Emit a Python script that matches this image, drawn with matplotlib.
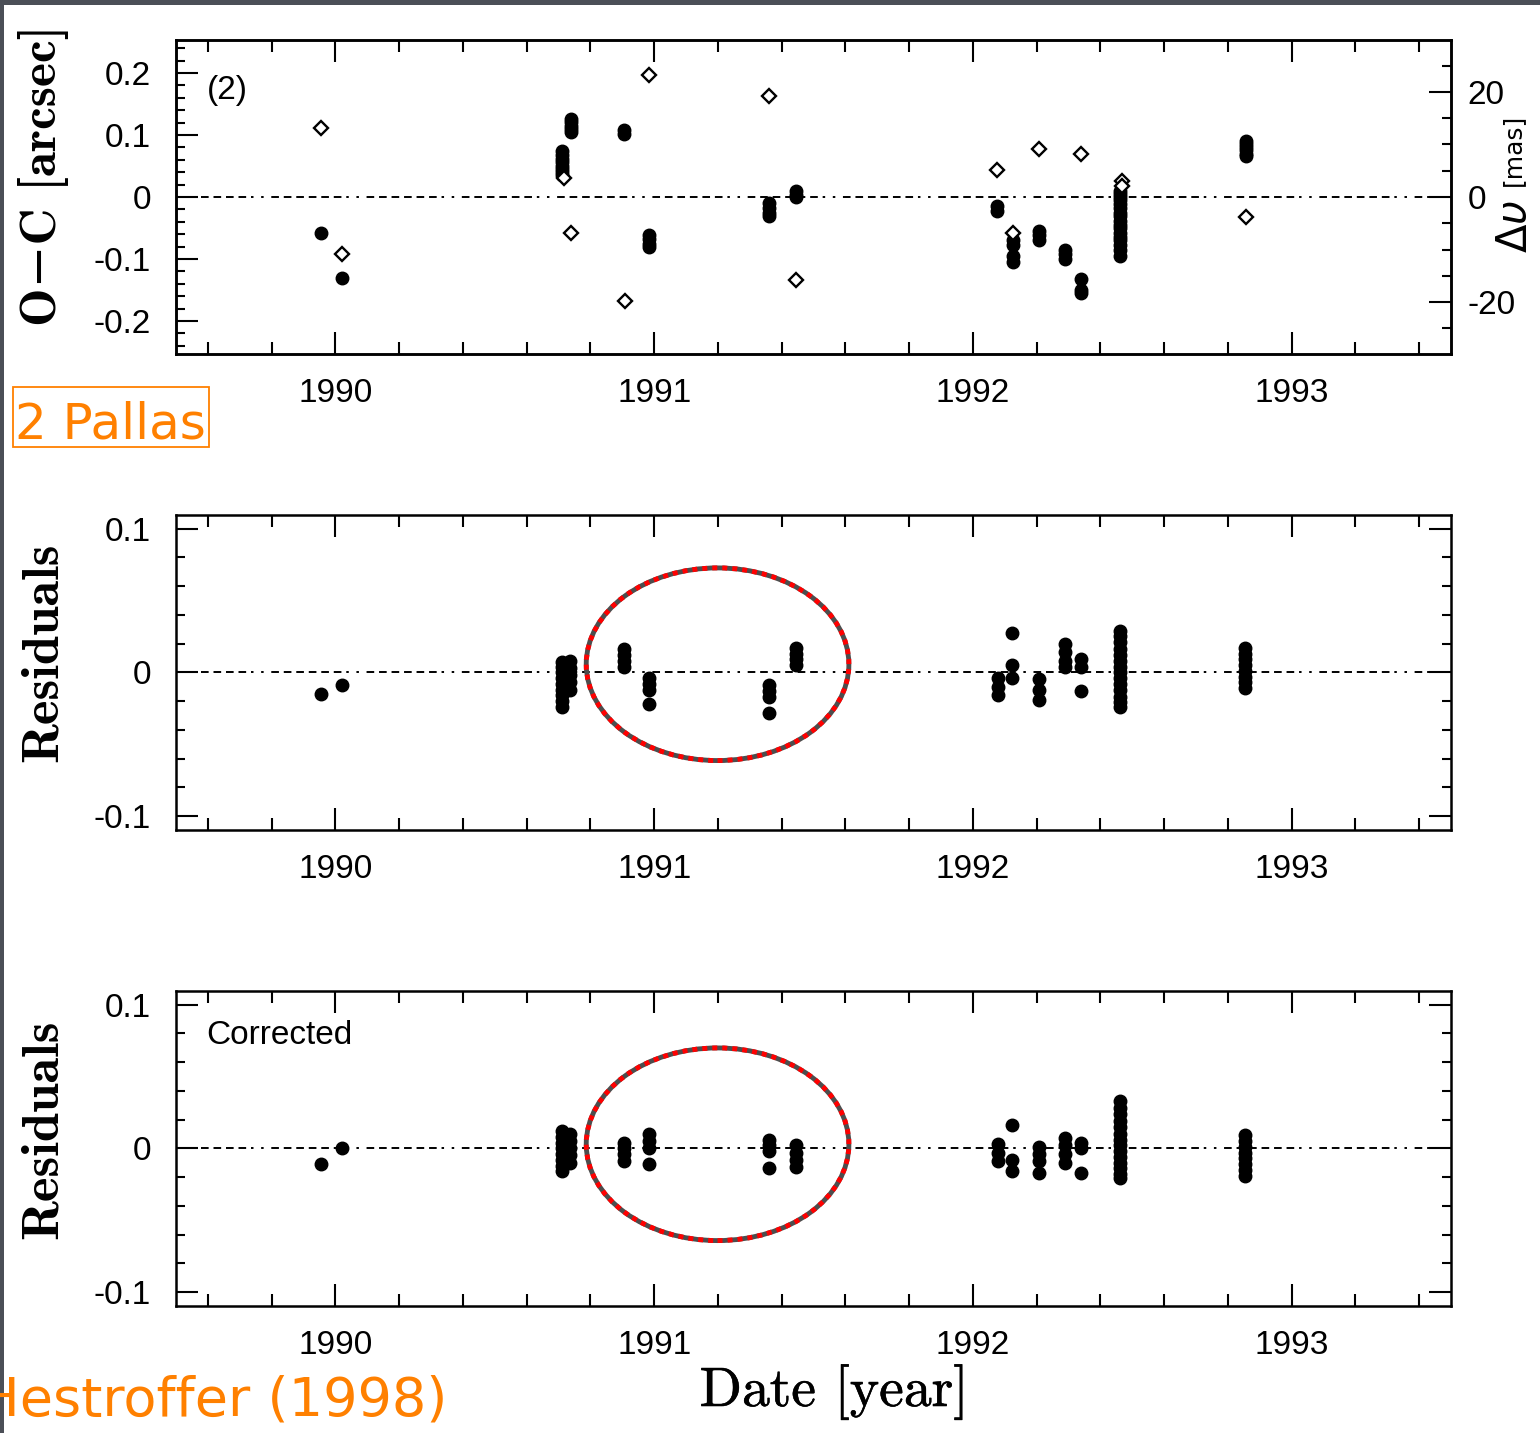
import numpy as np
import matplotlib.pyplot as plt
import matplotlib.patheffects as pe
from matplotlib.patches import Ellipse, Rectangle
from matplotlib.ticker import MultipleLocator, FixedLocator

plt.rcParams['lines.scale_dashes'] = False

# ---- data (Hestroffer 1998, 2 Pallas) ----
# O-C [arcsec], filled dots: epoch groups and their values
oc_epochs = [1989.956, 1990.022, 1990.712, 1990.740, 1990.906, 1990.984,
             1991.360, 1991.445, 1992.075, 1992.125, 1992.207, 1992.290,
             1992.340, 1992.463, 1992.856]
oc_values = [
    [-0.058],
    [-0.131],
    [0.074, 0.068, 0.062, 0.056, 0.050, 0.045, 0.040, 0.036],
    [0.126, 0.121, 0.115, 0.110, 0.105],
    [0.108, 0.102],
    [-0.062, -0.068, -0.075, -0.080],
    [-0.010, -0.018, -0.026, -0.030],
    [0.010, 0.004, 0.000],
    [-0.015, -0.022],
    [-0.070, -0.078, -0.095, -0.105],
    [-0.055, -0.062, -0.070],
    [-0.085, -0.092, -0.100],
    [-0.133, -0.150, -0.155],
    [0.010, 0.005, 0.000, -0.005, -0.012, -0.018, -0.025, -0.030, -0.038,
     -0.045, -0.050, -0.058, -0.065, -0.070, -0.078, -0.085, -0.095],
    [0.090, 0.085, 0.080, 0.075, 0.070, 0.066],
]

# photocentre offset Δυ, open diamonds (in arcsec units of the left axis)
dv_epochs = [1989.956, 1990.022, 1990.716, 1990.740, 1990.909, 1990.984,
             1991.360, 1991.445, 1992.075, 1992.125, 1992.207, 1992.340,
             1992.467, 1992.467, 1992.856]
dv_values = [0.111, -0.092, 0.030, -0.058, -0.168, 0.197,
             0.163, -0.134, 0.044, -0.058, 0.077, 0.069,
             0.026, 0.018, -0.032]

# residuals before correction
res_epochs = [1989.956, 1990.022, 1990.712, 1990.735, 1990.906, 1990.984,
              1991.360, 1991.445, 1992.078, 1992.122, 1992.207, 1992.290,
              1992.340, 1992.463, 1992.853]
res_values = [
    [-0.015],
    [-0.009],
    [0.007, 0.004, 0.000, -0.004, -0.008, -0.012, -0.016, -0.020, -0.024],
    [0.008, 0.003, -0.002, -0.007, -0.012],
    [0.016, 0.012, 0.008, 0.004],
    [-0.004, -0.008, -0.012, -0.022],
    [-0.009, -0.013, -0.017, -0.028],
    [0.017, 0.013, 0.009, 0.005],
    [-0.004, -0.010, -0.016],
    [0.027, 0.005, -0.004],
    [-0.005, -0.012, -0.019],
    [0.020, 0.014, 0.008, 0.004],
    [0.009, 0.004, -0.013],
    [0.029, 0.025, 0.021, 0.016, 0.012, 0.008, 0.004, 0.000, -0.004,
     -0.008, -0.012, -0.017, -0.021, -0.024],
    [0.017, 0.013, 0.009, 0.005, 0.001, -0.003, -0.007, -0.011],
]

# residuals after correction
cor_epochs = res_epochs
cor_values = [
    [-0.011],
    [0.000],
    [0.012, 0.008, 0.004, 0.000, -0.004, -0.008, -0.012, -0.016],
    [0.010, 0.005, 0.000, -0.005, -0.010],
    [0.004, 0.000, -0.004, -0.009],
    [0.010, 0.005, 0.000, -0.011],
    [0.006, 0.002, -0.002, -0.014],
    [0.002, -0.003, -0.008, -0.013],
    [0.003, -0.003, -0.009],
    [0.016, -0.008, -0.016],
    [0.001, -0.004, -0.009, -0.017],
    [0.007, 0.002, -0.004, -0.010],
    [0.004, 0.000, -0.017],
    [0.033, 0.028, 0.024, 0.019, 0.015, 0.010, 0.006, 0.002, -0.002,
     -0.006, -0.010, -0.014, -0.018, -0.021],
    [0.009, 0.005, 0.001, -0.003, -0.007, -0.011, -0.015, -0.019],
]

year_ticks = [1990, 1991, 1992, 1993]
year_labels = ['1990', '1991', '1992', '1993']


def expand(epochs, values):
    t, v = [], []
    for e, vals in zip(epochs, values):
        t += [e] * len(vals)
        v += vals
    return t, v


W, H = 1540, 1433
fig = plt.figure(figsize=(W / 100, H / 100), dpi=100)
fig.patch.set_facecolor('white')

tick_font = 'Liberation Sans'
# dashes in points (scale_dashes off)
zero_dash = (0, (5.5, 3.5) * 6 + (1.8, 5.5) * 2)
dot_ms = 9


def setup(ax, ylim, ymaj, ymin, yticklabels, right=True):
    ax.set_xlim(1989.5, 1993.5)
    ax.set_ylim(*ylim)
    ax.xaxis.set_major_locator(FixedLocator(year_ticks))
    ax.set_xticklabels(year_labels)
    ax.xaxis.set_minor_locator(MultipleLocator(0.2))
    ax.yaxis.set_major_locator(FixedLocator(ymaj))
    ax.set_yticklabels(yticklabels)
    ax.yaxis.set_minor_locator(MultipleLocator(ymin))
    ax.tick_params(which='both', direction='in', top=True, right=right,
                   width=1.5, labelsize=24, colors='black')
    ax.tick_params(which='major', length=16)
    ax.tick_params(axis='y', which='major', pad=18)
    ax.tick_params(axis='x', which='major', pad=17)
    ax.tick_params(axis='x', which='minor', length=8.5)
    ax.tick_params(axis='y', which='minor', length=6.5)
    for lab in ax.get_xticklabels() + ax.get_yticklabels():
        lab.set_family(tick_font)
    for s in ax.spines.values():
        s.set_linewidth(1.8)
    ax.axhline(0, color='black', lw=1.4, linestyle=zero_dash, zorder=1)


def ellipse(ax, cx, cy, w, h):
    # solid grey ring with red dashes on top -> alternating red / grey squares
    ax.add_patch(Ellipse((cx, cy), w, h, fill=False, edgecolor='#4d4d4d',
                         lw=3.5, zorder=5))
    ax.add_patch(Ellipse((cx, cy), w, h, fill=False, edgecolor='#ff0000',
                         lw=3.5, linestyle=(0, (3.6, 3.6)), zorder=6))


# ---- top panel: O-C ----
ax1 = fig.add_axes([176 / W, 1 - 354 / H, 1275 / W, 314 / H])
setup(ax1, (-0.2532, 0.2532), [-0.2, -0.1, 0, 0.1, 0.2], 0.02,
      ['-0.2', '-0.1', '0', '0.1', '0.2'], right=False)
t, v = expand(oc_epochs, oc_values)
ax1.plot(t, v, 'o', color='black', ms=dot_ms, mec='black', zorder=3)
ax1.plot(dv_epochs, dv_values, 'D', mfc='white', mec='black', ms=7.5,
         mew=1.7, zorder=4)
ax1.text(0.024, 0.84, '(2)', transform=ax1.transAxes, fontsize=24,
         family=tick_font, va='center')

ax1r = ax1.twinx()
ax1r.set_ylim(-29.9, 29.9)
ax1r.yaxis.set_major_locator(FixedLocator([-20, 0, 20]))
ax1r.set_yticklabels(['-20', '0', '20'])
ax1r.yaxis.set_minor_locator(MultipleLocator(5))
ax1r.tick_params(which='both', direction='in', width=1.5, labelsize=24)
ax1r.tick_params(which='major', length=16, pad=12)
ax1r.tick_params(which='minor', length=6.5)
for lab in ax1r.get_yticklabels():
    lab.set_family(tick_font)
for s in ax1r.spines.values():
    s.set_linewidth(1.8)

fig.text(1515 / W, 1 - 226 / H, r'$\Delta\upsilon$', rotation=90,
         fontsize=30, ha='center', va='center')
fig.text(1513 / W, 1 - 150 / H, '[mas]', rotation=90, fontsize=18,
         family='DejaVu Sans', ha='center', va='center')

# ---- middle panel: residuals ----
ax2 = fig.add_axes([176 / W, 1 - 830 / H, 1275 / W, 315 / H])
setup(ax2, (-0.1097, 0.1094), [-0.1, 0, 0.1], 0.02, ['-0.1', '0', '0.1'])
t, v = expand(res_epochs, res_values)
ax2.plot(t, v, 'o', color='black', ms=dot_ms, zorder=3)
ellipse(ax2, 1991.199, 0.0056, 0.824, 0.134)

# ---- bottom panel: corrected residuals ----
ax3 = fig.add_axes([176 / W, 1 - 1306 / H, 1275 / W, 315 / H])
setup(ax3, (-0.1097, 0.1094), [-0.1, 0, 0.1], 0.02, ['-0.1', '0', '0.1'])
t, v = expand(cor_epochs, cor_values)
ax3.plot(t, v, 'o', color='black', ms=dot_ms, zorder=3)
ellipse(ax3, 1991.199, 0.0028, 0.824, 0.134)
ax3.text(0.024, 0.86, 'Corrected', transform=ax3.transAxes, fontsize=24,
         family=tick_font, va='center')

# axis labels
lab_font = ['cmb10', 'DejaVu Serif']
fig.text(44 / W, 1 - 175 / H, 'O\u2212C [arcsec]', rotation=90,
         fontsize=37, family=lab_font, ha='center', va='center')
fig.text(44 / W, 1 - 652 / H, 'Residuals', rotation=90,
         fontsize=38, family=lab_font, ha='center', va='center')
fig.text(44 / W, 1 - 1129 / H, 'Residuals', rotation=90,
         fontsize=38, family=lab_font, ha='center', va='center')
fig.text(834 / W, 1 - 1392 / H, 'Date [year]', fontsize=40,
         family=['cmr10', 'DejaVu Serif'], ha='center', va='center',
         path_effects=[pe.withStroke(linewidth=0.4, foreground='black')])

# slide decorations
orange = '#ff8000'
fig.add_artist(Rectangle((13 / W, 1 - 447 / H), 196 / W, 60 / H,
                         transform=fig.transFigure, fill=False,
                         edgecolor=orange, lw=1.3))
fig.text(15 / W, 1 - 438 / H, '2 Pallas', color=orange, fontsize=36,
         family='DejaVu Sans', va='baseline', ha='left')
fig.text(447 / W, 1 - 1416 / H, 'Hestroffer (1998)', color=orange,
         fontsize=39, family='DejaVu Sans', va='baseline', ha='right')
fig.add_artist(Rectangle((0, 1 - 5 / H), 1, 5 / H, transform=fig.transFigure,
                         color='#4b4f57', lw=0))
fig.add_artist(Rectangle((0, 0), 4 / W, 1, transform=fig.transFigure,
                         color='#4b4f57', lw=0))

fig.savefig('out.png', dpi=100)
